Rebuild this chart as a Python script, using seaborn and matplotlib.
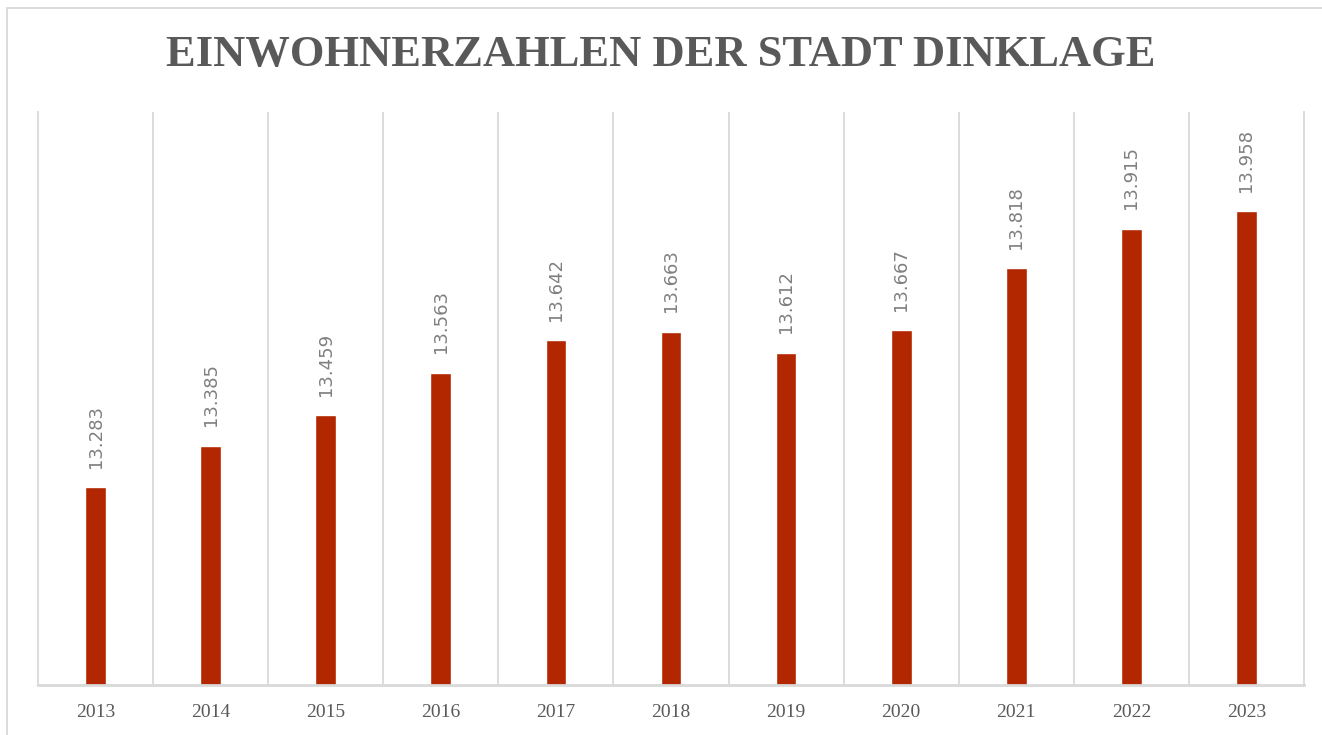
import matplotlib
matplotlib.use("Agg")
import matplotlib.pyplot as plt
import seaborn as sns
import pandas as pd
from matplotlib.patches import Rectangle

# Data
years = ["2013", "2014", "2015", "2016", "2017", "2018", "2019", "2020", "2021", "2022", "2023"]
einwohner = [13283, 13385, 13459, 13563, 13642, 13663, 13612, 13667, 13818, 13915, 13958]

df = pd.DataFrame({"Jahr": years, "Einwohner": einwohner})

sns.set_style("white")

bar_color = "#B22600"
grid_color = "#D9D9D9"
text_gray = "#595959"

fig = plt.figure(figsize=(13.22, 7.35), dpi=100)
ax = fig.add_axes([38 / 1322, 1 - 685 / 735, (1304 - 38) / 1322, (685 - 112) / 735])

sns.barplot(data=df, x="Jahr", y="Einwohner", color=bar_color, width=0.18,
            saturation=1, ax=ax)

ax.set_ylim(12800, 14200)
ax.set_xlim(-0.5, len(years) - 0.5)

# vertical gridlines between the categories
for b in range(1, len(years)):
    ax.axvline(b - 0.5, color=grid_color, lw=1.3, zorder=0)

ax.set_yticks([])
ax.set_xlabel("")
ax.set_ylabel("")
ax.tick_params(axis="x", length=0, pad=14)
for lbl in ax.get_xticklabels():
    lbl.set_fontfamily("Liberation Serif")
    lbl.set_fontsize(14)
    lbl.set_color(text_gray)

for side in ["left", "right", "bottom"]:
    ax.spines[side].set_color(grid_color)
    ax.spines[side].set_linewidth(1.3)
ax.spines["bottom"].set_linewidth(2)
ax.spines["top"].set_visible(False)

# data labels
labels = [f"{v:,}".replace(",", ".") for v in einwohner]
ax.bar_label(ax.containers[0], labels=labels, rotation=90, padding=14,
             fontsize=13, color="#7F7F7F", family="DejaVu Sans")

fig.text(0.5, 1 - 55 / 735, "EINWOHNERZAHLEN DER STADT DINKLAGE",
         ha="center", va="center", fontsize=32, fontweight="bold",
         family="Liberation Serif", color=text_gray)

# chart border
fig.patches.append(Rectangle((7 / 1322, -0.05), 1.1, 1 - 8 / 735 + 0.05,
                             transform=fig.transFigure, fill=False,
                             edgecolor=grid_color, lw=1.3))

fig.savefig("out.png", dpi=100)
